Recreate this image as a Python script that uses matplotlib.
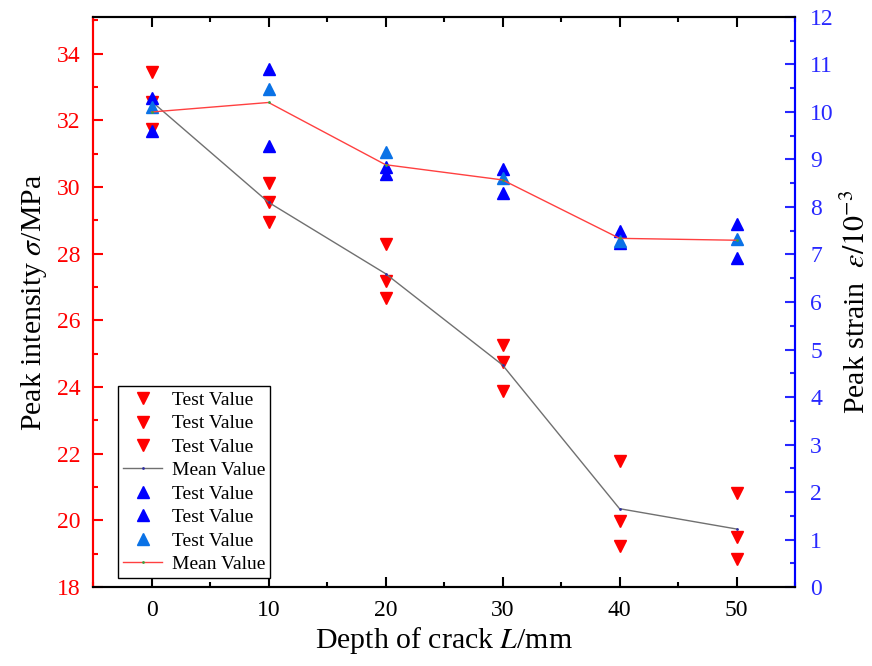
import matplotlib
matplotlib.use('Agg')
import matplotlib.pyplot as plt
from matplotlib.ticker import MultipleLocator

# Data
depth = [0, 10, 20, 30, 40, 50]
# peak strength (MPa), three test specimens
sigma_1 = [33.44, 30.11, 28.28, 25.26, 21.78, 20.82]
sigma_2 = [32.54, 29.54, 27.18, 24.75, 19.98, 19.50]
sigma_3 = [31.73, 28.94, 26.67, 23.88, 19.23, 18.84]
sigma_mean = [32.57, 29.54, 27.40, 24.66, 20.35, 19.74]
# peak strain (10^-3), three test specimens
eps_1 = [10.29, 10.90, 8.84, 8.80, 7.49, 7.64]
eps_2 = [9.60, 9.28, 8.69, 8.29, 7.24, 6.93]
eps_3 = [10.10, 10.48, 9.16, 8.61, 7.28, 7.33]
eps_mean = [10.00, 10.20, 8.89, 8.57, 7.34, 7.30]

plt.rcParams['font.family'] = ['Liberation Serif', 'DejaVu Serif']
plt.rcParams['mathtext.fontset'] = 'stix'

RED = '#FF0000'
BLUE = '#0000FF'
LBLUE = '#0A72E6'

fig = plt.figure(figsize=(8.72, 6.66), dpi=100)
ax1 = fig.add_axes([0.1067, 0.1186, 0.805, 0.8559])
ax2 = ax1.twinx()

ms = 8
h1, = ax1.plot(depth, sigma_1, 'v', color=RED, ms=ms, ls='none')
h2, = ax1.plot(depth, sigma_2, 'v', color=RED, ms=ms, ls='none')
h3, = ax1.plot(depth, sigma_3, 'v', color=RED, ms=ms, ls='none')
h4, = ax1.plot(depth, sigma_mean, '-', color='#707070', lw=1.0,
               marker='.', ms=2, mfc='#3030A0', mec='#3030A0')

h5, = ax2.plot(depth, eps_1, '^', color=BLUE, ms=ms, ls='none')
h6, = ax2.plot(depth, eps_2, '^', color=BLUE, ms=ms, ls='none')
h7, = ax2.plot(depth, eps_3, '^', color=LBLUE, ms=ms, ls='none')
h8, = ax2.plot(depth, eps_mean, '-', color='#FF4040', lw=1.0,
               marker='.', ms=2, mfc='#40A040', mec='#40A040')

ax1.set_xlim(-5, 55)
ax1.set_ylim(18, 35.1)
ax2.set_ylim(0, 12)

ax1.xaxis.set_major_locator(MultipleLocator(10))
ax1.xaxis.set_minor_locator(MultipleLocator(5))
ax1.yaxis.set_major_locator(MultipleLocator(2))
ax1.yaxis.set_minor_locator(MultipleLocator(1))
ax2.yaxis.set_major_locator(MultipleLocator(1))
ax2.yaxis.set_minor_locator(MultipleLocator(0.5))

ax1.tick_params(axis='x', which='both', direction='in', top=True,
                width=1.5, labelsize=17, pad=9)
ax1.tick_params(axis='y', which='both', direction='in', colors=RED,
                width=1.5, labelsize=17, pad=9)
ax2.tick_params(axis='y', which='both', direction='in', colors='#2828FF',
                width=1.5, labelsize=17, pad=11)
for ax in (ax1, ax2):
    ax.tick_params(which='major', length=7.2)
    ax.tick_params(which='minor', length=3.6)
    for s in ax.spines.values():
        s.set_linewidth(1.5)
ax2.spines['left'].set_color(RED)
ax2.spines['right'].set_color(BLUE)
ax1.spines['left'].set_color(RED)
ax1.spines['right'].set_color(BLUE)

ax1.set_xlabel(r'Depth of crack $L$/mm', fontsize=21.5, labelpad=3)
ax1.set_ylabel(r'Peak intensity $\sigma$/MPa', fontsize=21.5, labelpad=6)
ax2.set_ylabel(r'Peak strain  $\varepsilon/10^{-3}$', fontsize=21.5, labelpad=6)

handles = [h1, h2, h3, h4, h5, h6, h7, h8]
labels = ['Test Value'] * 3 + ['Mean Value'] + ['Test Value'] * 3 + ['Mean Value']
leg = ax2.legend(handles, labels, loc='lower left', bbox_to_anchor=(0.036, 0.016),
                 fontsize=14, frameon=True, fancybox=False, edgecolor='black',
                 framealpha=1, handlelength=2.0, labelspacing=0.3,
                 borderpad=0.25, handletextpad=0.5, borderaxespad=0)
leg.get_frame().set_linewidth(1)

fig.savefig('out.png', dpi=100)
